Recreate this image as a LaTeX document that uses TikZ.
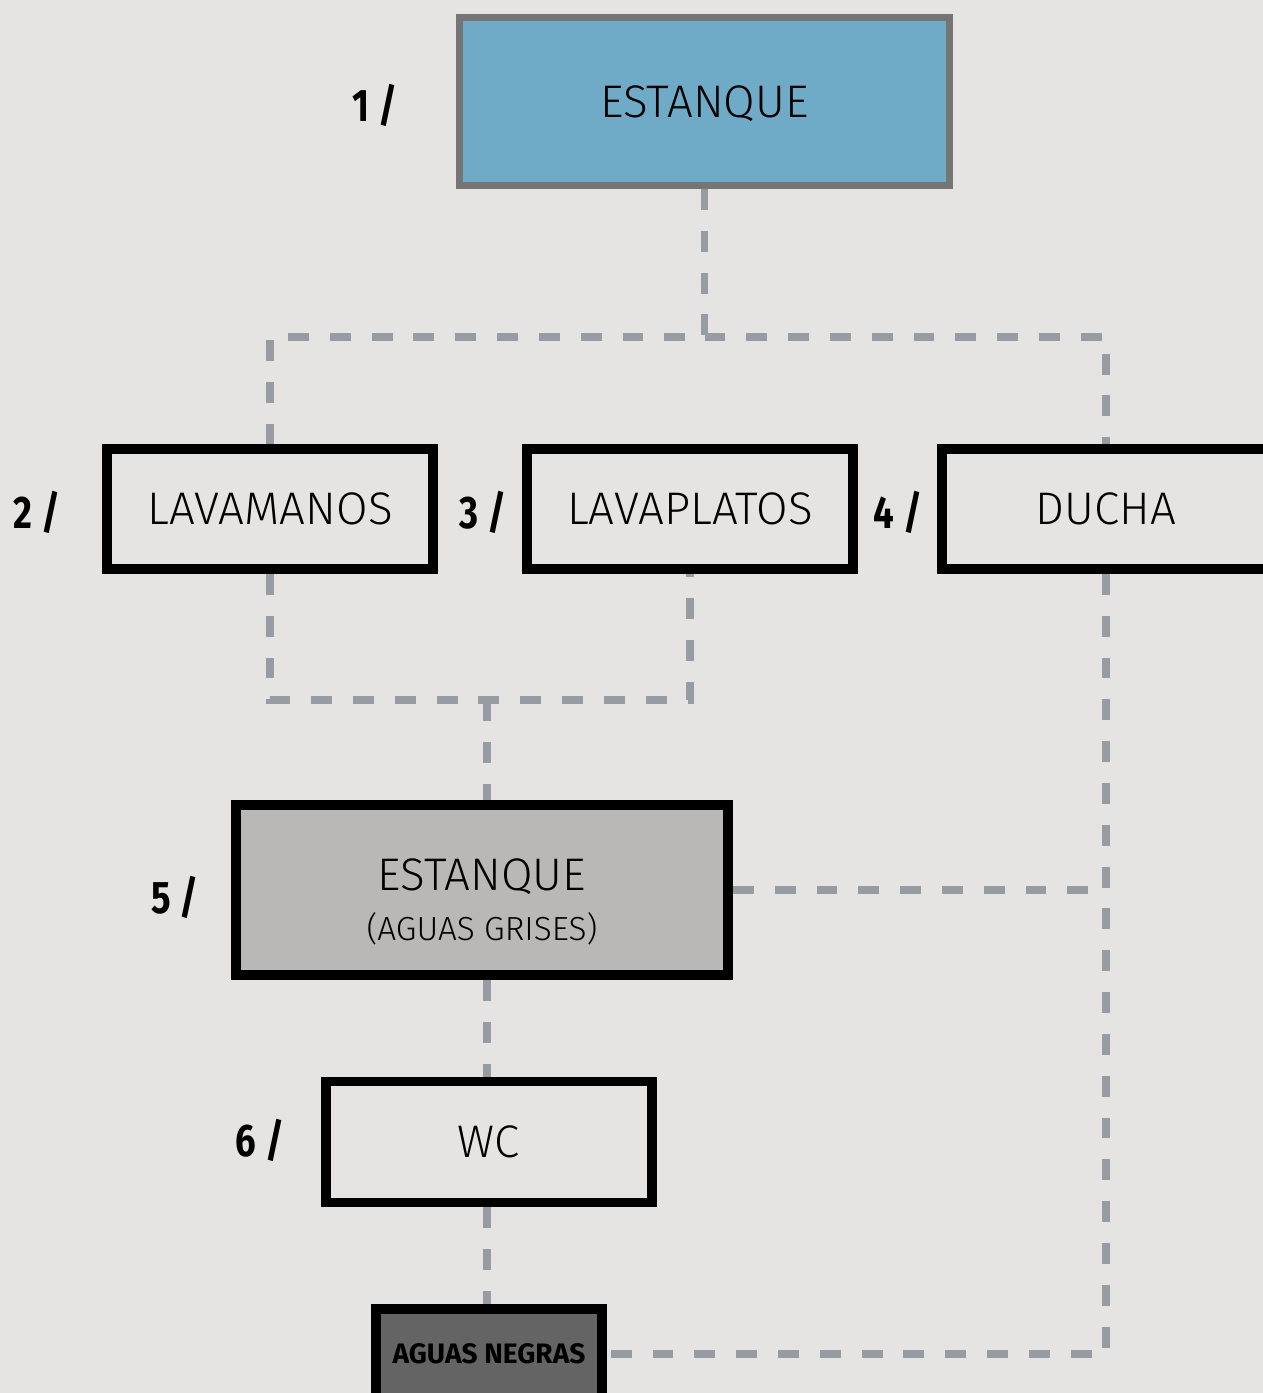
\documentclass[tikz,border=0pt]{standalone}
\usepackage{fontspec}
\setmainfont{Fira Sans}[UprightFont=* Light, BoldFont=* Bold]
\newfontfamily\numfont[FakeStretch=0.8]{Fira Sans}
\usepackage{tikz}
\usetikzlibrary{positioning}
\definecolor{bgcol}{HTML}{E5E4E2}
\definecolor{tankblue}{HTML}{6FAAC6}
\definecolor{tankedge}{HTML}{767575}
\definecolor{greywater}{HTML}{B9B8B6}
\definecolor{blackwater}{HTML}{656464}
\definecolor{pipecol}{HTML}{969CA1}
\tikzstyle{fixture} = [rectangle, draw=black, line width=5.6pt, inner sep=0pt, minimum width=6.52cm, minimum height=2.4cm, text centered, text height=18pt, text depth=-3.4pt, font=\fontsize{26}{30}\selectfont]
\tikzstyle{maintank} = [fixture, draw=tankedge, line width=4pt, fill=tankblue, minimum width=9.8cm, minimum height=3.36cm, text depth=-6pt]
\tikzstyle{greytank} = [fixture, fill=greywater, minimum width=9.84cm, minimum height=3.4cm, align=center, text height=58pt, text depth=0pt]
\tikzstyle{blacktank} = [fixture, fill=blackwater, minimum width=4.52cm, minimum height=1.8cm, text height=11pt, text depth=0pt, font=\fontsize{16}{18}\selectfont\bfseries]
\tikzstyle{num} = [font=\fontsize{26}{30}\numfont\bfseries]
\tikzstyle{pipe} = [draw=pipecol, line width=4.5pt, dash pattern=on 11.9pt off 11.9pt]

\begin{document}
\begin{tikzpicture}[x=0.02cm, y=-0.02cm]
	\fill[bgcol] (0,0) rectangle (1263,1393);
	\useasboundingbox (0,0) rectangle (1263,1393);
	% nodes
	\node (tank) [maintank] at (704.5,101.5) {ESTANQUE};
	\node (lava1) [fixture] at (270,509) {LAVAMANOS};
	\node (lava2) [fixture] at (690,509) {LAVAPLATOS};
	\node (ducha) [fixture, minimum width=6.56cm] at (1106,509) {DUCHA};
	\node (grises) [greytank] at (482,890) {ESTANQUE\\[-1.5pt]{\fontsize{19}{22}\selectfont (AGUAS GRISES)}};
	\node (wc) [fixture, minimum height=2.42cm] at (489,1142) {WC};
	\node (negras) [blacktank] at (489,1354) {AGUAS NEGRAS};
	% numbers
	\node (n1) [num] at (375,105) {1 /};
	\node (n2) [num] at (37,512) {2 /};
	\node (n3) [num] at (483,512) {3 /};
	\node (n4) [num] at (898,512) {4 /};
	\node (n5) [num] at (175,897) {5 /};
	\node (n6) [num] at (260,1140) {6 /};
	% pipes
	\coordinate (split) at (704.5,337);
	\coordinate (merge) at (487,700);
	\draw [pipe] (tank.south) -- (split) -| (lava1.north);
	\draw [pipe] (split) -| (ducha.north);
	\draw [pipe] (lava1.south) |- (merge) -| (lava2.south);
	\draw [pipe] (merge) -- (merge |- grises.north);
	\draw [pipe] (grises.south -| merge) -- (wc.north -| merge);
	\draw [pipe] (wc.south -| merge) -- (negras.north -| merge);
	\draw [pipe] (grises.east) -- (grises.east -| ducha.south);
	\draw [pipe] (ducha.south) |- (negras.east);
\end{tikzpicture}
\end{document}
